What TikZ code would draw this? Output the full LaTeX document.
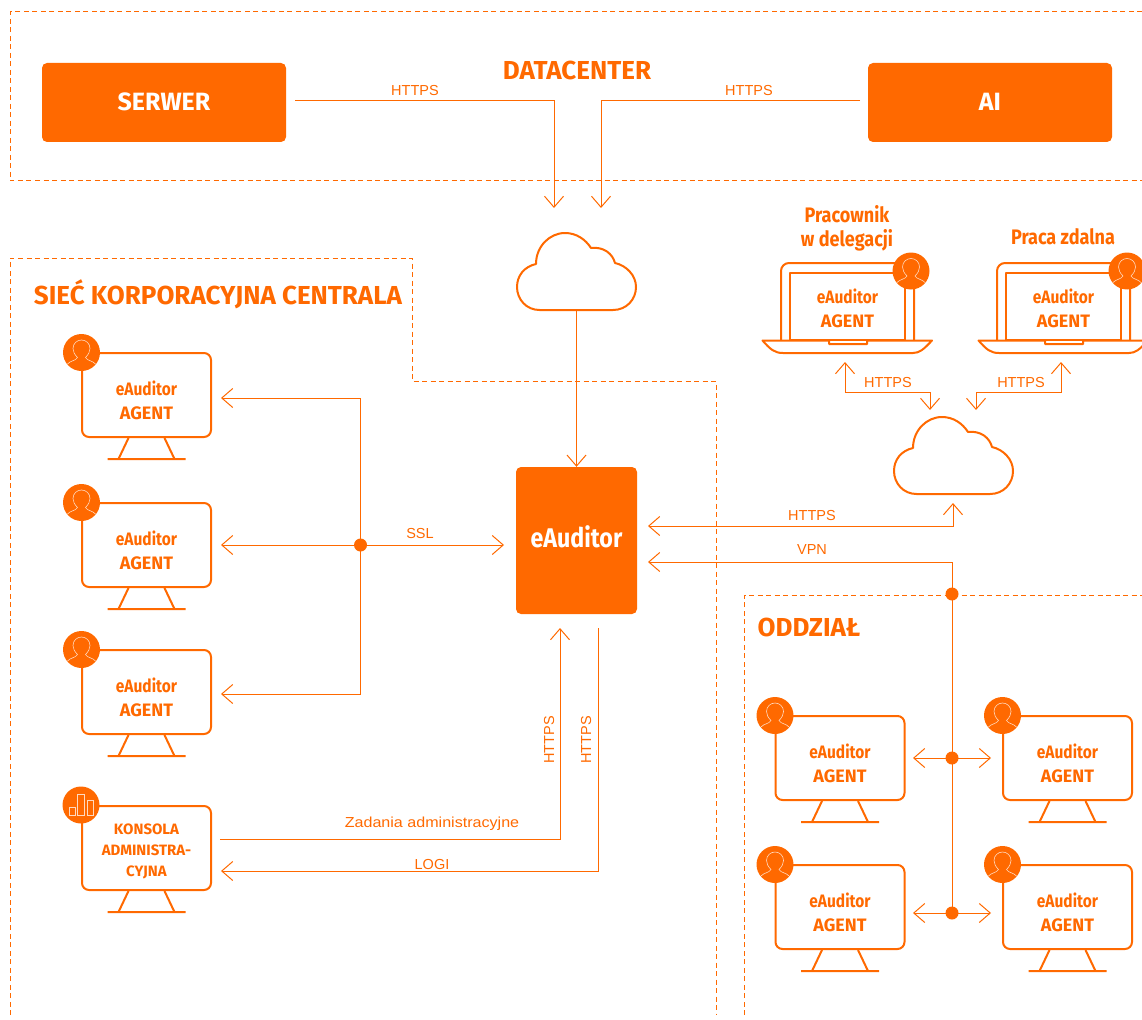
\documentclass[tikz,border=0pt]{standalone}
\usepackage{fontspec}
\setmainfont{Liberation Sans}
\newfontfamily\condfont[FakeStretch=0.86,BoldFeatures={FakeStretch=0.86}]{Fira Sans}
\newfontfamily\headfont{Fira Sans}
\newfontfamily\widefont[FakeStretch=1.11]{Liberation Sans}
\usetikzlibrary{positioning,calc,arrows.meta}
\definecolor{auditorange}{HTML}{FF6900}
\definecolor{iconline}{HTML}{FFD9BF}
\tikzset{
  wire/.style={draw=auditorange, line width=1pt},
  zone/.style={draw=auditorange, line width=1pt, dash pattern=on 5pt off 3.5pt},
  devline/.style={draw=auditorange, line width=2pt, line join=round},
  mainbox/.style={shape=rectangle, rounded corners=5pt, fill=auditorange, text=white, inner sep=0pt,
    font=\headfont\bfseries\fontsize{25}{30}\selectfont},
  zonelabel/.style={text=auditorange, inner sep=0pt, font=\headfont\bfseries\fontsize{26}{30}\selectfont},
  wirelabel/.style={text=auditorange, inner sep=0pt, font=\fontsize{14.5}{16}\selectfont},
  toplabel/.style={text=auditorange, inner sep=0pt, align=center, font=\condfont\bfseries\fontsize{21}{24}\selectfont},
  agenttext/.style={text=auditorange, inner sep=0pt, align=center, font=\condfont\bfseries\fontsize{18}{24}\selectfont},
  consoletext/.style={text=auditorange, inner sep=0pt, align=center, font=\headfont\bfseries\fontsize{15}{21}\selectfont},
  monitor/.style={shape=rectangle, devline, rounded corners=7pt, minimum width=129pt, minimum height=84pt, inner sep=0pt},
  screen/.style={shape=rectangle, devline, minimum width=115pt, minimum height=67pt, inner sep=0pt},
  cloudbox/.style={shape=rectangle, minimum width=119pt, minimum height=79pt, inner sep=0pt},
  dot/.style={shape=circle, fill=auditorange, minimum size=13pt, inner sep=0pt},
  badge/.style={shape=circle, fill=auditorange, minimum size=37pt, inner sep=0pt},
  usericon/.style={badge, path picture={
    \draw[iconline, line width=0.6pt] (-14,11.5) .. controls (-11,8) and (-6,8.5) .. (-4,5)
      .. controls (-7,2) and (-8.5,-1) .. (-8.5,-4) .. controls (-8.5,-9) and (-4.5,-12.5) .. (0,-12.5)
      .. controls (4.5,-12.5) and (8.5,-9) .. (8.5,-4) .. controls (8.5,-1) and (7,2) .. (4,5)
      .. controls (6,8.5) and (11,8) .. (14,11.5);
  }},
  charticon/.style={badge, path picture={
    \draw[iconline, line width=0.6pt] (-12,2) rectangle (-5.5,10.5) (-3.5,-11) rectangle (3.5,10.5) (6,-5) rectangle (12.5,10.5);
  }},
  pics/monitorstand/.style={code={
    \draw[devline] (-18,0) -- (-28,21) (18,0) -- (28,21) (-39,21) -- (39,21);
  }},
  pics/laptopframe/.style={code={
    \draw[devline] (-66.5,33.5) -- (-66.5,-34.5) [rounded corners=8pt] -- (-66.5,-43.5) -- (66.5,-43.5) [sharp corners] -- (66.5,33.5);
    \draw[devline] (-85,34) -- (-18.5,34) -- (-18.5,37.5) -- (19.5,37.5) -- (19.5,34) -- (84.5,34)
      .. controls (76,43) and (72,46.5) .. (65.5,46.5) -- (-64.5,46.5) .. controls (-73,46.5) and (-77,43) .. cycle;
  }},
  pics/cloudshape/.style={code={
    \draw[devline] (-37,38.5) .. controls (-50,38.5) and (-59.5,28) .. (-59.5,15.5)
      .. controls (-59.5,4) and (-52,-5) .. (-40.5,-7.5)
      .. controls (-40.5,-25) and (-27,-38.5) .. (-11.5,-38.5)
      .. controls (0,-38.5) and (9,-32) .. (14.5,-23.5)
      .. controls (27,-25) and (36,-18) .. (38.5,-8.5)
      .. controls (50,-6) and (59.5,4) .. (59.5,15.5)
      .. controls (59.5,28) and (50,38.5) .. (36.5,38.5) -- cycle;
  }},
  >={Straight Barb[length=11pt,width=19pt]},
}
% name, centre x, centre y
\newcommand{\agentbox}[3]{
  \node[monitor] (#1) at (#2,#3) {};
  \pic at (#1.south) {monitorstand};
  \node[usericon] (#1badge) at ($(#1.north west)+(0.5,0.5)$) {};
  \node[agenttext] (#1text) at (#2,#3+5) {eAuditor\\{\headfont\bfseries AGENT}};
}
\newcommand{\laptopbox}[2]{
  \node[screen] (#1) at (#2,306.5) {};
  \pic at (#1) {laptopframe};
  \node[usericon] (#1badge) at ($(#1)+(63.5,-35.5)$) {};
  \node[agenttext] (#1text) at (#2,308) {eAuditor\\{\headfont\bfseries AGENT}};
}
\begin{document}
\begin{tikzpicture}[x=1pt, y=-1pt]
  \useasboundingbox (0,0) rectangle (1142,1019);
  % zones
  \draw[zone] (1142,12) -- (10,12) -- (10,181) -- (1142,181);
  \draw[zone] (10,1015) -- (10,258) -- (412,258) -- (412,381) -- (716,381) -- (716,1015);
  \draw[zone] (744,1015) -- (744,595) -- (1142,595);
  \node[zonelabel] (datacenter) at (577,70) {DATACENTER};
  \node[zonelabel] (corporate) at (218,294) {SIEĆ KORPORACYJNA CENTRALA};
  \node[zonelabel] (branch) at (809,627) {ODDZIAŁ};

  % main boxes
  \node[mainbox, minimum width=244pt, minimum height=79pt, text depth=2pt] (server) at (164,102.5) {SERWER};
  \node[mainbox, minimum width=244pt, minimum height=79pt, text depth=2pt] (ai) at (990,102.5) {AI};
  \node[mainbox, minimum width=121pt, minimum height=147pt, text depth=7pt, font=\condfont\bfseries\fontsize{27}{30}\selectfont] (eauditor) at (576.5,540.5) {eAuditor};
  \node[cloudbox] (cloudtop) at (576.5,271.5) {};
  \pic at (cloudtop) {cloudshape};
  \node[cloudbox] (cloudright) at (953.5,455.5) {};
  \pic at (cloudright) {cloudshape};

  % central office
  \agentbox{agentA}{146.5}{395}
  \agentbox{agentB}{146.5}{545}
  \agentbox{agentC}{146.5}{692}
  \node[monitor] (console) at (146.5,848) {};
  \pic at (console.south) {monitorstand};
  \node[charticon] (consolebadge) at (81,805) {};
  \node[consoletext] (consoletxt) at (146.5,851) {KONSOLA\\ADMINISTRA-\\CYJNA};

  % branch
  \agentbox{agentD}{840}{758}
  \agentbox{agentE}{1067.5}{758}
  \agentbox{agentF}{840}{907}
  \agentbox{agentG}{1067.5}{907}

  % remote laptops
  \laptopbox{laptopA}{847.5}
  \laptopbox{laptopB}{1063.5}
  \node[toplabel] (delegation) at (847,228) {Pracownik\\w delegacji};
  \node[toplabel] (remote) at (1063,237) {Praca zdalna};

  % free ends
  \coordinate (serverout) at (295,101);
  \coordinate (serverin) at (554,208);
  \coordinate (aiout) at (860,101);
  \coordinate (aiin) at (601,208);
  \coordinate (tipA) at (221,398);
  \coordinate (tipB) at (221,545);
  \coordinate (tipC) at (221,694);
  \coordinate (tipSSL) at (504,545);
  \coordinate (busTop) at (360.5,398);
  \coordinate (busBottom) at (360.5,694);
  \coordinate (taskStart) at (220,839);
  \coordinate (taskEnd) at (560,628);
  \coordinate (logStart) at (598,628);
  \coordinate (logEnd) at (221,871);
  \coordinate (httpsTip) at (648,526);
  \coordinate (vpnTip) at (648,562);
  \coordinate (laptipA) at (845,362);
  \coordinate (laptipB) at (1061,362);
  \coordinate (elbowA) at (930,392);
  \coordinate (elbowB) at (976,392);
  \coordinate (cloudtipA) at (930,410);
  \coordinate (cloudtipB) at (976,410);
  \coordinate (cloudtipC) at (953,503);
  \coordinate (dTipA) at (913,758);
  \coordinate (eTipA) at (991,758);
  \coordinate (fTipA) at (913,913);
  \coordinate (gTipA) at (991,913);

  % connectors
  \draw[wire, ->] (serverout) -| (serverin);
  \draw[wire, ->] (aiout) -| (aiin);
  \draw[wire, ->] (cloudtop.south) -- (eauditor.north);
  \draw[wire, ->] (busTop) -- (tipA);
  \draw[wire] (busTop) -- (busBottom);
  \draw[wire, ->] (busBottom) -- (tipC);
  \draw[wire, <->] (tipB) -- (tipSSL);
  \node[dot] (busdot) at (360.5,545) {};
  \draw[wire, ->] (taskStart) -| (taskEnd);
  \draw[wire, ->] (logStart) |- (logEnd);
  \draw[wire, <->] (httpsTip) -| (cloudtipC);
  \node[dot] (vpndot) at (952,594) {};
  \node[dot] (rowdotA) at (952,758) {};
  \node[dot] (rowdotB) at (952,913) {};
  \draw[wire, ->] (rowdotB.center) |- (vpnTip);
  \draw[wire, <->] (dTipA) -- (eTipA);
  \draw[wire, <->] (fTipA) -- (gTipA);
  \draw[wire, <->] (laptipA) |- (elbowA) -- (cloudtipA);
  \draw[wire, <->] (laptipB) |- (elbowB) -- (cloudtipB);

  % connector labels
  \node[wirelabel] (httpsA) at (415,91) {HTTPS};
  \node[wirelabel] (httpsB) at (749,91) {HTTPS};
  \node[wirelabel] (ssl) at (420,534) {SSL};
  \node[wirelabel] (httpsC) at (812,516) {HTTPS};
  \node[wirelabel] (vpn) at (812,550) {VPN};
  \node[wirelabel] (httpsD) at (888,383) {HTTPS};
  \node[wirelabel] (httpsE) at (1021,383) {HTTPS};
  \node[wirelabel, rotate=90] (httpsF) at (549,740) {HTTPS};
  \node[wirelabel, rotate=90] (httpsG) at (586,740) {HTTPS};
  \node[wirelabel, font=\widefont\fontsize{14.5}{16}\selectfont] (tasks) at (432,824) {Zadania administracyjne};
  \node[wirelabel] (logs) at (432,864) {LOGI};
\end{tikzpicture}
\end{document}
